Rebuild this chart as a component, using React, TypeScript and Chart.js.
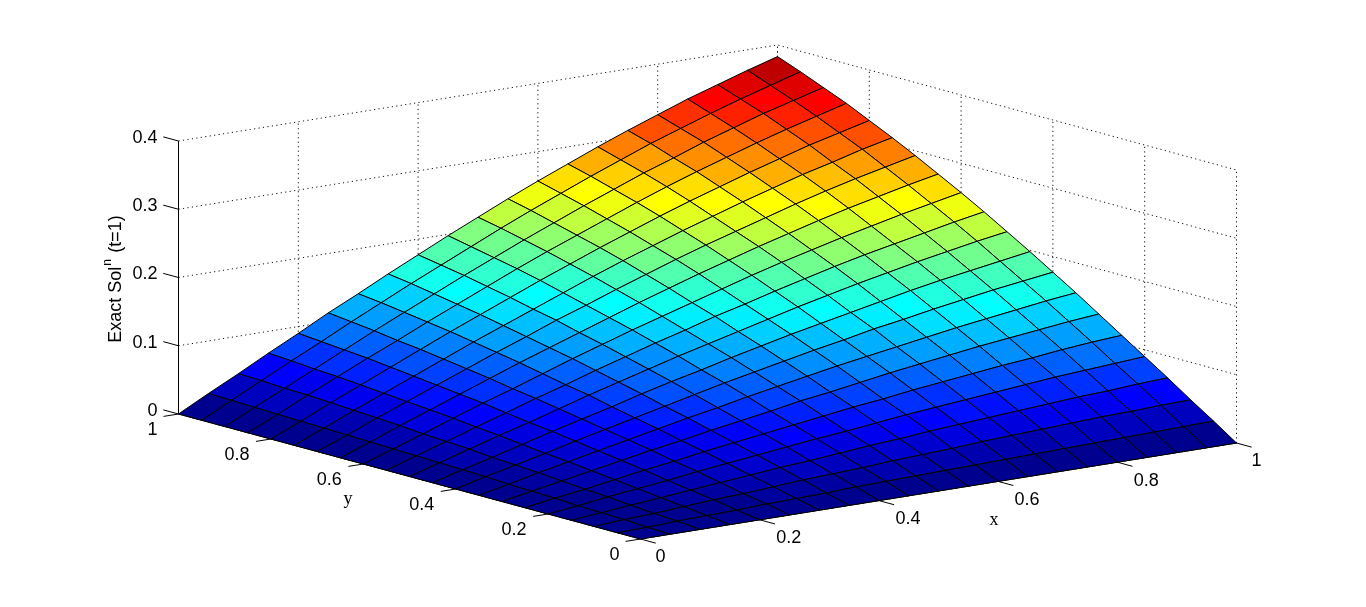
import React, { useEffect, useRef } from "react";
import { Chart, registerables } from "chart.js";

Chart.register(...registerables);

const gridX = [0, 0.05, 0.1, 0.15, 0.2, 0.25, 0.3, 0.35, 0.4, 0.45, 0.5, 0.55, 0.6, 0.65, 0.7, 0.75, 0.8, 0.85, 0.9, 0.95, 1];
const gridY = [0, 0.05, 0.1, 0.15, 0.2, 0.25, 0.3, 0.35, 0.4, 0.45, 0.5, 0.55, 0.6, 0.65, 0.7, 0.75, 0.8, 0.85, 0.9, 0.95, 1];

// Surface height in thousandths; one row per gridY value, one column per gridX value.
const surfaceMilli = [
  [0, 0, 0, 0, 0, 0, 0, 0, 0, 0, 0, 0, 0, 0, 0, 0, 0, 0, 0, 0, 0],
  [0, 1, 3, 4, 5, 7, 8, 9, 11, 12, 13, 14, 15, 16, 17, 18, 19, 20, 21, 22, 23],
  [0, 3, 5, 8, 11, 13, 16, 19, 21, 23, 26, 28, 30, 33, 35, 37, 39, 41, 42, 44, 45],
  [0, 4, 8, 12, 16, 20, 24, 28, 31, 35, 39, 42, 46, 49, 52, 55, 58, 61, 63, 66, 68],
  [0, 5, 11, 16, 21, 27, 32, 37, 42, 47, 51, 56, 61, 65, 69, 73, 77, 81, 84, 87, 90],
  [0, 7, 13, 20, 27, 33, 40, 46, 52, 58, 64, 70, 75, 81, 86, 91, 96, 100, 105, 109, 112],
  [0, 8, 16, 24, 32, 40, 47, 55, 62, 69, 77, 83, 90, 97, 103, 109, 115, 120, 125, 130, 134],
  [0, 9, 19, 28, 37, 46, 55, 64, 72, 81, 89, 97, 105, 112, 119, 126, 133, 139, 145, 151, 156],
  [0, 11, 21, 31, 42, 52, 62, 72, 82, 92, 101, 110, 119, 127, 136, 143, 151, 158, 165, 171, 177],
  [0, 12, 23, 35, 47, 58, 69, 81, 92, 102, 113, 123, 133, 142, 151, 160, 169, 177, 184, 191, 198],
  [0, 13, 26, 39, 51, 64, 77, 89, 101, 113, 124, 135, 146, 157, 167, 177, 186, 195, 203, 211, 218],
  [0, 14, 28, 42, 56, 70, 83, 97, 110, 123, 135, 148, 159, 171, 182, 193, 203, 212, 221, 230, 238],
  [0, 15, 30, 46, 61, 75, 90, 105, 119, 133, 146, 159, 172, 185, 197, 208, 219, 229, 239, 248, 257],
  [0, 16, 33, 49, 65, 81, 97, 112, 127, 142, 157, 171, 185, 198, 211, 223, 235, 246, 256, 266, 275],
  [0, 17, 35, 52, 69, 86, 103, 119, 136, 151, 167, 182, 197, 211, 224, 237, 250, 262, 273, 283, 293],
  [0, 18, 37, 55, 73, 91, 109, 126, 143, 160, 177, 193, 208, 223, 237, 251, 264, 277, 288, 300, 310],
  [0, 19, 39, 58, 77, 96, 115, 133, 151, 169, 186, 203, 219, 235, 250, 264, 278, 291, 304, 315, 326],
  [0, 20, 41, 61, 81, 100, 120, 139, 158, 177, 195, 212, 229, 246, 262, 277, 291, 305, 318, 330, 342],
  [0, 21, 42, 63, 84, 105, 125, 145, 165, 184, 203, 221, 239, 256, 273, 288, 304, 318, 332, 344, 356],
  [0, 22, 44, 66, 87, 109, 130, 151, 171, 191, 211, 230, 248, 266, 283, 300, 315, 330, 344, 357, 370],
  [0, 23, 45, 68, 90, 113, 134, 156, 177, 198, 218, 238, 257, 275, 293, 310, 326, 342, 356, 370, 383],
];

const xTicks = [0, 0.2, 0.4, 0.6, 0.8, 1];
const yTicks = [0, 0.2, 0.4, 0.6, 0.8, 1];
const zTicks = [0, 0.1, 0.2, 0.3, 0.4];
const xTickLabels = ["0", "0.2", "0.4", "0.6", "0.8", "1"];
const yTickLabels = ["0", "0.2", "0.4", "0.6", "0.8", "1"];
const zTickLabels = ["0", "0.1", "0.2", "0.3", "0.4"];

const Z_MAX = 0.383;
const W = 1366;
const H = 607;

// View of the 3-D box on the picture plane (with its slight perspective).
const project = (x: number, y: number, z: number) => ({
  x: 640.5 + 596 * x - 462 * y + 3 * x * y,
  y: 539 - 96 * x - 125 * y - 682.5 * z,
});

const jet = (value: number) => {
  const k = Math.min(64, Math.floor((value / Z_MAX) * 64) + 1);
  const u = k / 64;
  const c = (v: number) => Math.round(255 * Math.max(0, Math.min(1, v)));
  const r = c(Math.min(4 * u - 1.5, -4 * u + 4.5));
  const g = c(Math.min(4 * u - 0.5, -4 * u + 3.5));
  const b = c(Math.min(4 * u + 0.5, -4 * u + 2.5));
  return `rgb(${r},${g},${b})`;
};

const lineSet = (points: { x: number; y: number }[], color: string, dash: number[] = [], width = 1) => ({
  data: points,
  showLine: true,
  fill: false,
  borderColor: color,
  borderWidth: width,
  borderDash: dash,
  pointRadius: 0,
  tension: 0,
  clip: false,
});

// Chart.js paints the first dataset last, so the surface comes first and the box after it.
const buildDatasets = () => {
  const sets: any[] = [];
  for (let j = 0; j < gridY.length - 1; j++) {
    for (let i = 0; i < gridX.length - 1; i++) {
      const z = (a: number, b: number) => surfaceMilli[b][a] / 1000;
      sets.push({
        data: [
          project(gridX[i], gridY[j], z(i, j)),
          project(gridX[i + 1], gridY[j], z(i + 1, j)),
          project(gridX[i + 1], gridY[j + 1], z(i + 1, j + 1)),
          project(gridX[i], gridY[j + 1], z(i, j + 1)),
          project(gridX[i], gridY[j], z(i, j)),
        ],
        showLine: true,
        fill: "shape",
        backgroundColor: jet(z(i, j)),
        borderColor: "#000000",
        borderWidth: 1,
        pointRadius: 0,
        tension: 0,
        clip: false,
      });
    }
  }
  const dots = [1.2, 3.3];
  const gridColor = "#111111";
  sets.push(lineSet([project(0, 1, 0), project(0, 1, 0.4)], "#000"));
  sets.push(lineSet([project(0, 0, 0), project(1, 0, 0)], "#000"));
  sets.push(lineSet([project(0, 0, 0), project(0, 1, 0)], "#000"));
  zTicks.forEach((z) => sets.push(lineSet([project(0, 1, z), project(0, 1.033, z)], "#000")));
  xTicks.forEach((x) => sets.push(lineSet([project(x, 0, 0), project(x, -0.033, 0)], "#000")));
  yTicks.forEach((y) => sets.push(lineSet([project(0, y, 0), project(-0.025, y, 0)], "#000")));
  xTicks.forEach((x) => {
    sets.push(lineSet([project(x, 0, 0), project(x, 1, 0)], gridColor, dots));
    if (x > 0) sets.push(lineSet([project(x, 1, 0), project(x, 1, 0.4)], gridColor, dots));
  });
  yTicks.forEach((y) => {
    sets.push(lineSet([project(0, y, 0), project(1, y, 0)], gridColor, dots));
    sets.push(lineSet([project(1, y, 0), project(1, y, 0.4)], gridColor, dots));
  });
  zTicks.forEach((z) => {
    sets.push(lineSet([project(0, 1, z), project(1, 1, z), project(1, 0, z)], gridColor, dots));
  });
  return sets;
};

const textPlugin = {
  id: "axisText",
  afterDraw(chart: any) {
    const { ctx, scales } = chart;
    const px = (p: { x: number; y: number }) => ({ x: scales.x.getPixelForValue(p.x), y: scales.y.getPixelForValue(p.y) });
    ctx.save();
    ctx.fillStyle = "#000";
    ctx.textBaseline = "middle";
    ctx.font = '18px "Liberation Sans", Arial, sans-serif';
    ctx.textAlign = "right";
    zTicks.forEach((z, n) => {
      const p = px(project(0, 1, z));
      ctx.fillText(zTickLabels[n], p.x - 21, p.y - 3);
    });
    ctx.textAlign = "center";
    xTicks.forEach((x, n) => {
      const p = px(project(x, 0, 0));
      const single = xTickLabels[n].length === 1;
      ctx.fillText(xTickLabels[n], p.x + (single ? 20 : 29), p.y + 18.5);
    });
    yTicks.forEach((y, n) => {
      const p = px(project(0, y, 0));
      const single = yTickLabels[n].length === 1;
      ctx.fillText(yTickLabels[n], p.x + (single ? -26 : -34), p.y + 16);
    });
    ctx.font = '18px "Liberation Serif", "Times New Roman", serif';
    ctx.fillText("x", 994, 520);
    ctx.fillText("y", 348, 499);
    // Rotated z label with a raised n.
    ctx.translate(116, 279);
    ctx.rotate(-Math.PI / 2);
    ctx.font = '18px "Liberation Sans", Arial, sans-serif';
    ctx.textAlign = "left";
    const first = "Exact Sol";
    const last = " (t=1)";
    const a = ctx.measureText(first).width;
    const c = ctx.measureText(last).width;
    const b = 9;
    const start = -(a + b + c) / 2;
    ctx.fillText(first, start, 0);
    ctx.fillText(last, start + a + b, 0);
    ctx.font = '12px "Liberation Sans", Arial, sans-serif';
    ctx.fillText("n", start + a + 1, -8);
    ctx.restore();
  },
};

export default function App() {
  const ref = useRef<HTMLCanvasElement | null>(null);
  useEffect(() => {
    document.body.style.margin = "0";
    document.body.style.background = "#fff";
    const chart = new Chart(ref.current as HTMLCanvasElement, {
      type: "scatter",
      data: { datasets: buildDatasets() },
      options: {
        animation: false,
        responsive: false,
        events: [],
        layout: { padding: 0 },
        plugins: { legend: { display: false }, tooltip: { enabled: false }, title: { display: false } },
        scales: {
          x: { type: "linear", min: 0, max: W, display: false },
          y: { type: "linear", min: 0, max: H, reverse: true, display: false },
        },
      } as any,
      plugins: [textPlugin],
    } as any);
    return () => chart.destroy();
  }, []);
  return (
    <div style={{ position: "absolute", left: 0, top: 0, width: W, height: H, background: "#fff" }}>
      <canvas ref={ref} width={W} height={H} style={{ display: "block" }} />
    </div>
  );
}
